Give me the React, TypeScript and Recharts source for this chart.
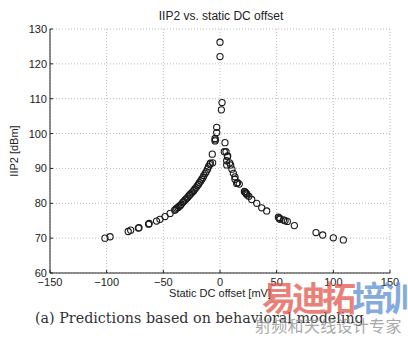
import React from 'react';
import { ScatterChart, Scatter, XAxis, YAxis, CartesianGrid } from 'recharts';

// DC offset [mV] and IIP2 [dBm]
const offsetLeft = [
  -101.5, -97, -81, -78.8, -72, -71.5, -63, -62.5, -56, -53, -48.5, -44,
  -40, -39, -38.2, -37, -36.1, -35, -34.2, -33, -32.1, -31, -30.2, -29, -28.1,
  -27, -26.2, -25, -24.1, -23, -22.2, -21, -20.1, -19, -18.2, -17, -16.1, -15,
  -14.2, -13, -12.1, -11, -10.2, -9, -8.5, -6.8, -6.5, -4.4, -4.4, -4, -2.9, -2.9,
];
const iip2Left = [
  70.0, 70.4, 71.9, 72.3, 72.9, 73.0, 74.0, 74.2, 74.9, 75.4, 76.2, 77.1,
  78.0, 78.3, 78.6, 78.8, 79.1, 79.4, 79.7, 80.2, 80.5, 80.9, 81.2, 81.5, 81.9,
  82.3, 82.6, 83.0, 83.3, 83.7, 84.1, 84.5, 85.0, 85.4, 85.9, 86.4, 86.9, 87.4,
  88.0, 88.6, 89.1, 89.8, 90.5, 91.1, 91.5, 94.1, 91.6, 97.9, 98.6, 98.2, 100.3, 101.8,
];
const offsetCenter = [0, 0, 1.2, 1.8];
const iip2Center = [122.1, 126.2, 106.8, 108.9];
const offsetRight = [
  4.4, 3.8, 5.3, 5.9, 5.9, 6.5, 6.8, 8.5, 9.4, 10.5, 11.8, 13.2, 13.2, 14.7,
  15.5, 17, 21.5, 22, 22.5, 23, 23.5, 24, 25.5, 28, 32.4, 36.8, 41.2, 51.5,
  52.5, 52.9, 56, 57.4, 59.4, 65.6, 84.7, 90.6, 100, 108.8,
];
const iip2Right = [
  97.4, 94.8, 94.8, 92.2, 91.0, 93.4, 93.6, 91.6, 91.0, 89.8, 88.6, 87.6, 86.9, 85.7,
  85.9, 85.5, 83.4, 83.3, 83.0, 82.9, 82.7, 82.4, 82.0, 81.1, 80.0, 78.7, 77.8, 76.0,
  75.7, 75.4, 75.2, 75.0, 74.8, 73.6, 71.6, 70.9, 70.1, 69.5,
];
const xTicks = [-150, -100, -50, 0, 50, 100, 150];
const yTicks = [60, 70, 80, 90, 100, 110, 120, 130];

const points = [
  ...offsetLeft.map((x, i) => ({ x, y: iip2Left[i] })),
  ...offsetCenter.map((x, i) => ({ x, y: iip2Center[i] })),
  ...offsetRight.map((x, i) => ({ x, y: iip2Right[i] })),
];

const FONT = '"Liberation Sans", Arial, Helvetica, sans-serif';

const fmt = (v: number) => (v < 0 ? '\u2212' + Math.abs(v) : String(v));

const XTick = (props: any) => {
  const { x, y, payload } = props;
  return (
    <g>
      <line x1={x} y1={y} x2={x} y2={y - 3} stroke="#222" />
      <text x={x} y={y + 13} textAnchor="middle" fontSize={11} fontFamily={FONT} fill="#222">
        {fmt(payload.value)}
      </text>
    </g>
  );
};

const YTick = (props: any) => {
  const { x, y, payload } = props;
  return (
    <g>
      <line x1={x} y1={y} x2={x + 3} y2={y} stroke="#222" />
      <text x={x - 3} y={y + 4} textAnchor="end" fontSize={11} fontFamily={FONT} fill="#222">
        {payload.value}
      </text>
    </g>
  );
};

const Ring = (props: any) => (
  <circle cx={props.cx} cy={props.cy} r={3.1} fill="none" stroke="#1a1a1a" strokeWidth={1.1} />
);

export default function App() {
  return (
    <div style={{ position: 'absolute', left: 0, top: 0, width: 408, height: 338, background: '#fff', overflow: 'hidden' }}>
      <ScatterChart width={408} height={338} margin={{ top: 29, right: 18, left: 0, bottom: 35 }}>
        <CartesianGrid stroke="#bdbdbd" strokeDasharray="1 2" />
        <XAxis
          type="number"
          dataKey="x"
          domain={[-150, 150]}
          ticks={xTicks}
          allowDataOverflow
          height={30}
          tickSize={0}
          tickMargin={0}
          tick={<XTick />}
          axisLine={{ stroke: '#222' }}
          tickLine={false}
          label={{ value: 'Static DC offset [mV]', position: 'insideBottom', offset: 6, fontSize: 11, fontFamily: FONT, fill: '#222' }}
        />
        <YAxis
          type="number"
          dataKey="y"
          domain={[60, 130]}
          ticks={yTicks}
          allowDataOverflow
          width={50}
          tickSize={0}
          tickMargin={0}
          tick={<YTick />}
          axisLine={{ stroke: '#222' }}
          tickLine={false}
          label={{ value: 'IIP2 [dBm]', angle: -90, position: 'insideLeft', offset: 14, fontSize: 11, fontFamily: FONT, fill: '#222', style: { textAnchor: 'middle' } }}
        />
        <Scatter data={points} shape={<Ring />} isAnimationActive={false} />
        <text x={221} y={20} textAnchor="middle" fontSize={12} fontFamily={FONT} fill="#222">
          IIP2 vs. static DC offset
        </text>
      </ScatterChart>
      <div style={{ position: 'absolute', left: 35, top: 310, fontFamily: '"DejaVu Serif", serif', fontSize: 14.3, color: '#333', whiteSpace: 'nowrap' }}>
        (a) Predictions based on behavioral modeling
      </div>
      <div style={{ position: 'absolute', left: 262, top: 279, fontFamily: '"Noto Sans CJK SC", sans-serif', fontWeight: 700, fontSize: 34, lineHeight: '36px', whiteSpace: 'nowrap', letterSpacing: -4, opacity: 0.75 }}>
        <span style={{ color: '#e2574c' }}>易迪拓</span>
        <span style={{ color: '#5b8fd0' }}>培训</span>
      </div>
      <div style={{ position: 'absolute', left: 255, top: 315, fontFamily: '"Noto Sans CJK SC", sans-serif', fontSize: 16, lineHeight: '20px', color: '#9a9a9a', whiteSpace: 'nowrap', letterSpacing: 0.3, opacity: 0.85 }}>
        射频和天线设计专家
      </div>
    </div>
  );
}
